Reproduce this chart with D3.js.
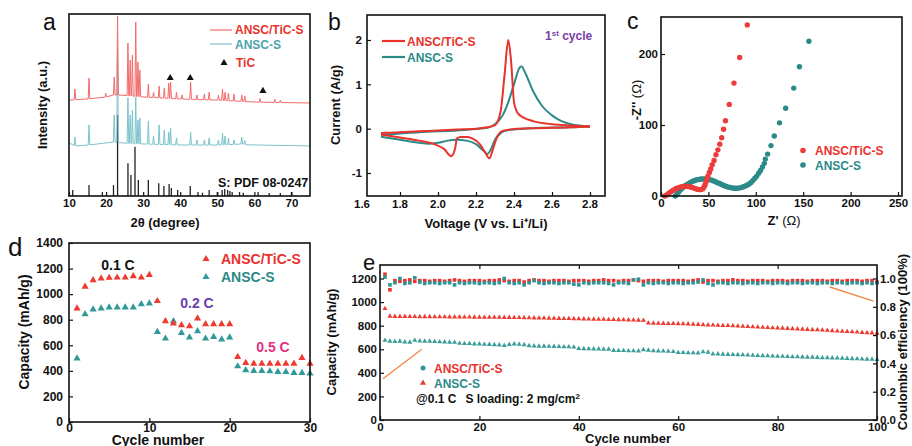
<!DOCTYPE html>
<html>
<head>
<meta charset="utf-8">
<script src="https://cdn.jsdelivr.net/npm/d3@7"></script>
<style>
  body { margin: 0; background: #fff; }
  svg text { font-family: "Liberation Sans", Arial, sans-serif; font-weight: bold; }
</style>
</head>
<body>
<svg id="fig" width="912" height="446"></svg>
<script>
// ---------- data ----------
// a: XRD (2theta, apex intensity in a.u.)
const redBaseline = [[10,52.7],[15,53.3],[20,54.4],[22,55.5],[24,55.5],[30,54.4],[40,53.3],[50,52.7],[60,51.6],[75,51.1]];
const redPeaks = [[11.6,58.8],[15.4,64.8],[19.9,56.5],[22.2,65.4],[23.1,98.9],[25.9,84],[26.5,74.7],[27.1,77.5],[28.0,95.6],[28.6,73.6],[29.1,69.2],[31.4,61.5],[32.8,57],[34.3,60.4],[35.7,59.3],[36.9,62],[37.4,62.6],[39.0,57],[40.5,55.5],[42.8,62.6],[44.5,55.5],[46.5,56],[47.8,57],[50.3,55.5],[51.4,58.8],[52.1,57],[53.0,56.6],[54.5,56],[56.6,55.5],[57.4,55],[61.5,53.5],[65.5,53.2],[67.0,52.6]];
const tealBaseline = [[10,29.1],[12.5,26.9],[15,28],[20,28.6],[22,29.7],[25,29],[30,28.6],[40,28],[50,28],[57,28.6],[58.5,27.5],[75,27.5]];
const tealPeaks = [[11.6,32.4],[15.4,39],[22.2,44.5],[23.1,81],[25.9,54],[26.5,44.5],[27.1,47],[28.0,54.4],[28.6,41.8],[29.1,42.9],[31.4,41.2],[32.8,33],[34.3,39],[35.7,36.3],[36.9,35.2],[37.4,37.4],[39.0,31.9],[42.8,35.2],[44.5,30.8],[46.5,30.8],[47.8,31.9],[50.3,30.8],[51.4,34.6],[52.1,33],[53.0,31.9],[54.5,30.8],[56.6,32.4],[57.4,30.5]];
const sulfurSticks = [[11.0,3.3],[15.4,6],[19.0,2.2],[22.0,6],[23.1,44.5],[25.9,18],[26.7,11.5],[27.8,27],[28.7,8.8],[31.4,8.8],[34.2,7],[35.6,5.5],[37.0,6.6],[37.6,4.4],[39.3,3.3],[42.7,5.5],[44.8,2.2],[46.0,1.8],[47.8,3.3],[50.0,2.2],[51.3,3.3],[52.0,3.8],[52.8,3.3],[53.4,2.7],[54.0,2.2],[56.0,2.2],[57.0,1.8],[61.0,2.2],[64.0,1.6],[67.0,1.6],[70.0,2.2]];
const ticMarks = [[37.3,64.8],[42.7,64.8],[62.3,57.7]];

// b: CV first cycle (V, A/g)
const voltTicks = [1.6, 1.8, 2.0, 2.2, 2.4, 2.6, 2.8];
const cvRedAnodic = [[1.70,-0.10],[1.80,-0.08],[1.90,-0.06],[2.00,-0.04],[2.10,-0.02],[2.20,0.0],[2.26,0.03],[2.30,0.08],[2.33,0.4],[2.35,1.2],[2.37,2.0],[2.385,1.5],[2.40,0.6],[2.42,0.35],[2.45,0.25],[2.50,0.17],[2.60,0.1],[2.70,0.07],[2.80,0.05]];
const cvRedCathodic = [[1.70,-0.13],[1.80,-0.2],[1.90,-0.27],[1.98,-0.35],[2.03,-0.45],[2.07,-0.62],[2.09,-0.45],[2.10,-0.22],[2.12,-0.19],[2.15,-0.19],[2.18,-0.22],[2.22,-0.35],[2.25,-0.55],[2.27,-0.67],[2.29,-0.45],[2.31,-0.2],[2.34,-0.05],[2.40,-0.01],[2.50,0.01],[2.60,0.02],[2.70,0.03],[2.80,0.05]];
const cvTealAnodic = [[1.70,-0.14],[1.80,-0.11],[1.90,-0.08],[2.00,-0.06],[2.10,-0.04],[2.20,-0.01],[2.26,0.02],[2.30,0.1],[2.34,0.3],[2.37,0.6],[2.40,1.0],[2.43,1.38],[2.44,1.40],[2.46,1.25],[2.50,0.85],[2.55,0.5],[2.60,0.3],[2.65,0.17],[2.70,0.1],[2.80,0.05]];
const cvTealCathodic = [[1.70,-0.18],[1.80,-0.25],[1.90,-0.32],[1.95,-0.34],[2.00,-0.32],[2.05,-0.27],[2.10,-0.25],[2.15,-0.27],[2.20,-0.35],[2.24,-0.5],[2.26,-0.57],[2.28,-0.45],[2.30,-0.25],[2.33,-0.1],[2.37,-0.03],[2.45,0.0],[2.55,0.02],[2.70,0.03],[2.80,0.05]];

// c: Nyquist (Z', -Z'')
const eisRed = [[4,0],[6,1.5],[8,3.5],[10,5.5],[12,7.5],[14,9],[16,10.5],[18,11.5],[20,12.5],[22,13],[24,13.5],[26,13.5],[28,13.5],[30,13],[32,12.5],[34,11.5],[36,10.5],[38,9.5],[40,9],[42,9],[44,10],[45.5,13],[46.5,16],[47.5,20],[48.5,24],[49.5,28],[51,33],[52.5,38],[54,44],[56,50],[58,58],[60,65],[62,73],[64,82],[66,94],[68,106],[72,129],[77,159],[83,195],[91,241]];
const eisTeal = [[15,0],[17,3],[19,6],[21,9],[23,11.5],[25,14],[27,16],[29,17.5],[31,19],[33,20.5],[35,21.5],[37,22.5],[39,23],[41,23.5],[43,24],[45,24],[47,24],[49,23.5],[51,23],[53,22.5],[55,21.5],[57,20.5],[59,19],[61,18],[63,17],[65,15.5],[67,14.5],[69,13.5],[71,12.5],[73,12],[75,11.5],[77,11],[79,11],[81,11],[83,11.5],[85,12],[87,13],[89,14],[91,15.5],[93,17],[95,19],[97,22],[99,25],[101,28],[103,32],[105,36],[107,41],[109,46],[110,52],[112.5,59],[116,71],[119.5,84.5],[125,103],[131.5,123.5],[140,152],[146,182],[156,218]];

// d: rate capability (cycles 1..30)
const rateCycles = d3.range(1, 31);
const rateRed = [888,1058,1110,1123,1128,1130,1130,1141,1130,1150,946,789,771,758,750,810,765,765,765,765,509,462,457,457,457,457,457,457,501,457];
const rateTeal = [497,844,881,888,896,896,896,896,922,928,705,653,789,697,661,711,653,666,646,661,436,405,400,400,397,392,392,384,384,379];

// e: cycling at 0.1 C (cycles 1..100)
const cycles = d3.range(1, 101);
const capRed = [945,880,878,878,878,877,877,876,876,876,
  875,875,875,874,874,874,873,873,872,872,
  871,871,870,870,869,869,868,868,867,866,
  865,864,864,863,862,861,860,860,859,858,
  857,856,855,854,853,852,851,850,849,848,
  847,846,845,822,821,820,819,818,817,816,
  815,814,812,810,808,806,805,803,801,800,
  798,796,794,792,790,788,786,784,782,780,
  778,776,774,772,770,768,766,764,762,760,
  757,754,752,750,747,745,742,740,738,735];
const capTeal = [675,668,665,668,662,660,675,670,668,668,
  665,663,662,660,658,650,648,648,645,645,
  642,640,638,636,632,640,645,642,638,630,
  628,626,626,625,624,622,620,620,618,605,
  604,603,602,602,600,600,590,588,588,586,
  586,585,596,592,586,585,584,582,580,572,
  572,570,570,568,578,575,560,560,558,556,
  555,554,552,550,548,546,545,544,542,540,
  540,538,536,535,534,532,532,530,528,528,
  526,525,524,522,520,518,516,515,514,512];
const ceRed = [1.03,0.92,0.985,0.98,0.985,0.99,0.98,0.985,0.985,0.98,
  0.985,0.985,0.98,0.985,0.99,0.985,0.98,0.985,0.985,0.985,
  0.98,0.985,0.985,0.99,0.985,0.98,0.985,0.985,0.975,0.985,
  0.99,0.985,0.985,0.98,0.985,0.985,0.985,0.98,0.985,0.985,
  0.985,0.98,0.985,0.985,0.99,0.985,0.985,0.98,0.985,0.985,
  0.99,0.985,0.98,0.985,0.985,0.985,0.98,0.985,0.985,0.985,
  0.985,0.98,0.985,0.99,0.975,0.985,0.985,0.98,0.985,0.985,
  0.99,0.985,0.985,0.98,0.985,0.985,0.985,0.98,0.985,0.985,
  0.985,0.98,0.985,0.985,0.985,0.98,0.985,0.985,0.985,0.98,
  0.985,0.985,0.98,0.985,0.985,0.985,0.98,0.985,0.985,0.975];
const ceTeal = [1.01,0.955,0.97,1.0,0.965,0.97,1.005,0.975,0.965,0.97,
  0.97,0.965,0.97,0.97,0.955,0.97,0.965,0.97,0.97,0.965,
  0.97,0.97,0.965,0.97,1.0,0.97,0.965,0.97,0.955,0.97,
  0.985,0.97,0.965,0.97,0.97,0.965,0.97,0.97,0.96,0.955,
  0.97,0.965,0.97,0.97,0.97,0.965,0.955,0.97,0.97,0.965,
  0.99,0.995,0.955,0.97,0.965,0.97,0.97,0.965,0.97,0.97,
  0.965,0.97,0.97,0.975,0.99,0.965,0.955,0.97,0.97,0.965,
  0.97,0.97,0.965,0.97,0.97,0.965,0.97,0.97,0.965,0.97,
  0.97,0.965,0.97,0.97,0.965,0.97,0.97,0.965,0.97,0.97,
  0.965,0.97,0.97,0.965,0.97,0.97,0.965,0.97,0.965,0.97];

// ---------- drawing ----------
const RED = "#e8322b", TEAL = "#2b8a88";
const svg = d3.select("#fig");
const plain = d => String(d);   // "-1" with a plain hyphen, no thousands comma

function frame(x0, y0, x1, y1) {
  svg.append("rect").attr("x", x0).attr("y", y0)
    .attr("width", x1 - x0).attr("height", y1 - y0)
    .attr("fill", "none").attr("stroke", "#111").attr("stroke-width", 1.6);
}

function styleAxis(g, size) {
  g.select(".domain").remove();
  g.selectAll("line").attr("stroke", "#111").attr("stroke-width", 1.2);
  g.selectAll("text").attr("fill", "#111").style("font-size", (size || 11.5) + "px")
    .style("font-family", '"Liberation Sans", Arial, sans-serif').style("font-weight", "bold");
}

function axisAt(axis, tx, ty, size) {
  const g = svg.append("g").attr("transform", `translate(${tx},${ty})`).call(axis);
  styleAxis(g, size);
  return g;
}

function label(x, y, txt, opts) {
  opts = opts || {};
  const t = svg.append("text").attr("x", x).attr("y", y)
    .attr("fill", opts.color || "#111")
    .style("font-size", (opts.size || 13) + "px")
    .attr("text-anchor", opts.anchor || "middle")
    .text(txt);
  if (opts.rotate) t.attr("transform", `rotate(${opts.rotate},${x},${y})`);
  if (opts.normal) t.style("font-weight", "normal");
  return t;
}

// ===== panel a =====
const xA = d3.scaleLinear().domain([10, 75]).range([69, 310]);
const yA = d3.scaleLinear().domain([0, 100]).range([196, 14]);

function xrdPoints(baseline, peaks, hw) {
  const base = d3.scaleLinear().domain(baseline.map(d => d[0])).range(baseline.map(d => d[1]));
  const pts = [[10, base(10)]];
  peaks.forEach(([t, h]) => {
    pts.push([t - hw, base(t - hw)], [t, h], [t + hw, base(t + hw)]);
  });
  pts.push([75, base(75)]);
  return pts;
}
const lineA = d3.line().x(d => xA(d[0])).y(d => yA(d[1]));

svg.append("g").selectAll("line").data(sulfurSticks).join("line")
  .attr("x1", d => xA(d[0])).attr("x2", d => xA(d[0]))
  .attr("y1", yA(0)).attr("y2", d => yA(d[1]))
  .attr("stroke", "#222").attr("stroke-width", 1.3);
svg.append("path").attr("d", lineA(xrdPoints(tealBaseline, tealPeaks, 0.22)))
  .attr("fill", "none").attr("stroke", "#7cc3cb").attr("stroke-width", 1);
svg.append("path").attr("d", lineA(xrdPoints(redBaseline, redPeaks, 0.22)))
  .attr("fill", "none").attr("stroke", "#f26b6b").attr("stroke-width", 1);
svg.append("g").selectAll("path").data(ticMarks).join("path")
  .attr("transform", d => `translate(${xA(d[0])},${yA(d[1])})`)
  .attr("d", d3.symbol(d3.symbolTriangle, 22)).attr("fill", "#111");

frame(69, 14, 310, 196);
axisAt(d3.axisBottom(xA).tickValues(d3.range(10, 71, 10)).tickFormat(plain).tickSize(-4).tickPadding(3), 0, 196);
label(47, 105, "Intensity (a.u.)", { rotate: -90, size: 13 });
label(165, 227, "2θ (degree)", { size: 13 });
label(43, 30, "a", { anchor: "start", size: 23, normal: true });
// legend a
svg.append("line").attr("x1", 210).attr("x2", 232).attr("y1", 30).attr("y2", 30).attr("stroke", "#f26b6b").attr("stroke-width", 1.2);
label(235, 34, "ANSC/TiC-S", { anchor: "start", size: 12, color: RED });
svg.append("line").attr("x1", 210).attr("x2", 232).attr("y1", 44).attr("y2", 44).attr("stroke", "#7cc3cb").attr("stroke-width", 1.2);
label(235, 48.5, "ANSC-S", { anchor: "start", size: 12, color: "#4aa3ad" });
svg.append("path").attr("transform", "translate(224,63)").attr("d", d3.symbol(d3.symbolTriangle, 22)).attr("fill", "#111");
label(236, 67, "TiC", { anchor: "start", size: 12, color: RED });
label(218, 187, "S: PDF 08-0247", { anchor: "start", size: 12.5 });

// ===== panel b =====
const xB = d3.scaleLinear().domain([1.6, 2.8]).range([362, 590]);
const yB = d3.scaleLinear().domain([-1, 2]).range([173, 40]);
const lineB = d3.line().x(d => xB(d[0])).y(d => yB(d[1])).curve(d3.curveMonotoneX);
[[cvTealCathodic, TEAL], [cvTealAnodic, TEAL], [cvRedCathodic, RED], [cvRedAnodic, RED]].forEach(([d, c]) => {
  svg.append("path").attr("d", lineB(d)).attr("fill", "none").attr("stroke", c).attr("stroke-width", 2);
});
frame(367, 15, 605, 196);
// tick marks only where they fall inside the frame; labels for every tick value
axisAt(d3.axisBottom(xB).tickValues(voltTicks.slice(1)).tickFormat("").tickSize(-4), 0, 196);
svg.append("g").selectAll("text").data(voltTicks).join("text")
  .attr("x", d => xB(d)).attr("y", 207.5).attr("text-anchor", "middle")
  .attr("fill", "#111").style("font-size", "11.5px")
  .text(d3.format(".1f"));
axisAt(d3.axisLeft(yB).tickValues([-1, 0, 1, 2]).tickFormat(plain).tickSize(-4).tickPadding(5), 367, 0);
label(340, 105, "Current (A/g)", { rotate: -90, size: 13 });
label(486, 228, "Voltage (V vs. Li⁺/Li)", { size: 13 });
label(328, 30, "b", { anchor: "start", size: 23, normal: true });
svg.append("line").attr("x1", 382).attr("x2", 405).attr("y1", 41).attr("y2", 41).attr("stroke", RED).attr("stroke-width", 2.2);
label(407, 45.5, "ANSC/TiC-S", { anchor: "start", size: 12, color: RED });
svg.append("line").attr("x1", 382).attr("x2", 405).attr("y1", 57).attr("y2", 57).attr("stroke", TEAL).attr("stroke-width", 2.2);
label(407, 61.5, "ANSC-S", { anchor: "start", size: 12, color: TEAL });
const cyc = svg.append("text").attr("x", 545).attr("y", 40).attr("fill", "#7a3ea6").style("font-size", "12px");
cyc.append("tspan").text("1");
cyc.append("tspan").attr("dy", -4).style("font-size", "8px").text("st");
cyc.append("tspan").attr("dy", 4).text(" cycle");

// ===== panel c =====
const xC = d3.scaleLinear().domain([0, 250]).range([661, 898]);
const yC = d3.scaleLinear().domain([0, 200]).range([196, 54]);
svg.append("g").selectAll("circle").data(eisTeal).join("circle")
  .attr("cx", d => xC(d[0])).attr("cy", d => yC(d[1])).attr("r", 2.7).attr("fill", TEAL);
svg.append("g").selectAll("circle").data(eisRed).join("circle")
  .attr("cx", d => xC(d[0])).attr("cy", d => yC(d[1])).attr("r", 2.7).attr("fill", "#ee3b3b");
frame(661, 17, 902, 196);
axisAt(d3.axisBottom(xC).tickValues(d3.range(0, 251, 50)).tickFormat(plain).tickSize(-4).tickPadding(3), 0, 196);
axisAt(d3.axisLeft(yC).tickValues([0, 100, 200]).tickFormat(plain).tickSize(-4).tickPadding(3), 661, 0);
const zy = svg.append("text").attr("transform", "translate(641,100) rotate(-90)").attr("text-anchor", "middle").attr("fill", "#111").style("font-size", "13px");
zy.append("tspan").text("-Z'' ");
zy.append("tspan").style("font-weight", "normal").text("(Ω)");
const zx = svg.append("text").attr("x", 784).attr("y", 225).attr("text-anchor", "middle").attr("fill", "#111").style("font-size", "13px");
zx.append("tspan").text("Z' ");
zx.append("tspan").style("font-weight", "normal").text("(Ω)");
label(627, 29, "c", { anchor: "start", size: 23, normal: true });
svg.append("circle").attr("cx", 803).attr("cy", 150.5).attr("r", 2.8).attr("fill", "#ee3b3b");
label(815, 155, "ANSC/TiC-S", { anchor: "start", size: 12, color: RED });
svg.append("circle").attr("cx", 803).attr("cy", 165).attr("r", 2.8).attr("fill", TEAL);
label(815, 169.5, "ANSC-S", { anchor: "start", size: 12, color: TEAL });

// ===== panel d =====
const xD = d3.scaleLinear().domain([0, 30]).range([69, 310]);
const yD = d3.scaleLinear().domain([0, 1400]).range([422, 243]);
const tri = d3.symbol(d3.symbolTriangle, 22);
svg.append("g").selectAll("path").data(rateCycles).join("path")
  .attr("transform", (c, i) => `translate(${xD(c)},${yD(rateTeal[i])})`).attr("d", tri).attr("fill", "#2f9a98");
svg.append("g").selectAll("path").data(rateCycles).join("path")
  .attr("transform", (c, i) => `translate(${xD(c)},${yD(rateRed[i])})`).attr("d", tri).attr("fill", "#ee3b30");
frame(69, 243, 310, 422);
axisAt(d3.axisBottom(xD).tickValues([0, 10, 20, 30]).tickFormat(plain).tickSize(-4).tickPadding(1), 0, 422, 12);
axisAt(d3.axisLeft(yD).tickValues(d3.range(0, 1401, 200)).tickFormat(plain).tickSize(-4).tickPadding(6), 69, 0, 12);
label(29, 332, "Capacity (mAh/g)", { rotate: -90, size: 14 });
label(158, 445, "Cycle number", { size: 14 });
label(8, 256, "d", { anchor: "start", size: 26, normal: true });
label(118, 270, "0.1 C", { size: 14 });
label(197, 308, "0.2 C", { size: 14, color: "#6b3db0" });
label(273, 352, "0.5 C", { size: 14, color: "#e2307e" });
svg.append("path").attr("transform", "translate(206,259)").attr("d", tri).attr("fill", "#ee3b30");
label(221, 264, "ANSC/TiC-S", { anchor: "start", size: 14, color: RED });
svg.append("path").attr("transform", "translate(206,277)").attr("d", tri).attr("fill", "#2f9a98");
label(221, 282, "ANSC-S", { anchor: "start", size: 14, color: TEAL });

// ===== panel e =====
const xE = d3.scaleLinear().domain([0, 100]).range([380, 877]);
const yE = d3.scaleLinear().domain([0, 1200]).range([420, 278.5]);
const yE2 = d3.scaleLinear().domain([0, 1]).range([420, 278.5]);
const sq = d3.symbol(d3.symbolSquare, 13);
const triE = d3.symbol(d3.symbolTriangle, 11);
svg.append("g").selectAll("path").data(cycles).join("path")
  .attr("transform", (c, i) => `translate(${xE(c)},${yE2(ceRed[i])})`).attr("d", sq).attr("fill", "#ee3030");
svg.append("g").selectAll("path").data(cycles).join("path")
  .attr("transform", (c, i) => `translate(${xE(c)},${yE2(ceTeal[i])})`).attr("d", sq).attr("fill", "#2f9592");
svg.append("g").selectAll("path").data(cycles).join("path")
  .attr("transform", (c, i) => `translate(${xE(c)},${yE(capRed[i])})`).attr("d", triE).attr("fill", "#ee3b30");
svg.append("g").selectAll("path").data(cycles).join("path")
  .attr("transform", (c, i) => `translate(${xE(c)},${yE(capTeal[i])})`).attr("d", triE).attr("fill", "#3a9d9a");
// orange pointers
svg.append("line").attr("x1", xE(0.6)).attr("y1", yE(350)).attr("x2", xE(8.4)).attr("y2", yE(600))
  .attr("stroke", "#f08a4b").attr("stroke-width", 1.4);
svg.append("line").attr("x1", xE(90.5)).attr("y1", yE2(0.94)).attr("x2", xE(99.3)).attr("y2", yE2(0.84))
  .attr("stroke", "#f08a4b").attr("stroke-width", 1.4);
frame(380, 265, 877, 420);
axisAt(d3.axisBottom(xE).tickValues(d3.range(0, 101, 20)).tickFormat(plain).tickSize(-4).tickPadding(3), 0, 420);
axisAt(d3.axisTop(xE).tickValues(d3.range(20, 100, 20)).tickSize(-4).tickFormat(""), 0, 265);
axisAt(d3.axisLeft(yE).tickValues(d3.range(0, 1201, 200)).tickFormat(plain).tickSize(-4).tickPadding(3), 380, 0);
axisAt(d3.axisRight(yE2).tickValues([0, 0.2, 0.4, 0.6, 0.8, 1.0]).tickFormat(d3.format(".1f")).tickSize(-4).tickPadding(3), 877, 0);
label(336, 342, "Capacity (mAh/g)", { rotate: -90, size: 13 });
label(907, 342, "Coulombic efficiency (100%)", { rotate: -90, size: 13 });
label(628, 443, "Cycle number", { size: 13 });
label(363, 270, "e", { anchor: "start", size: 22, normal: true });
svg.append("circle").attr("cx", 423).attr("cy", 368).attr("r", 2.5).attr("fill", "#2f9592");
label(434, 372.5, "ANSC/TiC-S", { anchor: "start", size: 12, color: RED });
svg.append("path").attr("transform", "translate(423,383)").attr("d", d3.symbol(d3.symbolTriangle, 16)).attr("fill", "#ee3b30");
label(434, 387.5, "ANSC-S", { anchor: "start", size: 12, color: TEAL });
const note = svg.append("text").attr("x", 416).attr("y", 402.5).attr("fill", "#111").style("font-size", "12px");
note.append("tspan").text("@0.1 C");
note.append("tspan").attr("dx", 9).text("S loading: 2 mg/cm");
note.append("tspan").attr("dy", -4).style("font-size", "8px").text("2");
</script>
</body>
</html>
